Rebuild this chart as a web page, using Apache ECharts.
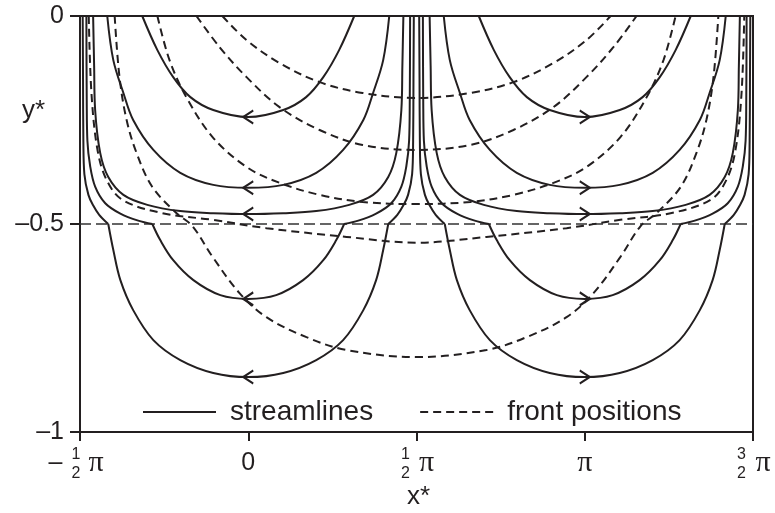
<!DOCTYPE html>
<html>
<head>
<meta charset="utf-8">
<script src="https://cdn.jsdelivr.net/npm/echarts@6/dist/echarts.min.js"></script>
<style>
  html, body { margin: 0; padding: 0; background: #fff; }
  #chart { width: 775px; height: 513px; }
</style>
</head>
<body>
<div id="chart"></div>
<script>
// Horizontal coordinate is x*/π, vertical is y*.
const cellCentres = [0, 1];          // centres of the two streamline cells
const cellArrowDir = ['left', 'right'];
const frontCentre = 0.5;             // front positions are symmetric about x* = π/2
const interfaceDepth = -0.5;

// Streamlines: left half of a cell, [offset from cell centre, y*], top boundary -> lowest point.
// Streamlines reaching the lower layer are split at the interface (upper part / lower part).
const streamline1 = { upper: [[-0.315, 0], [-0.270, -0.082], [-0.223, -0.147], [-0.172, -0.195], [-0.104, -0.226], [0, -0.243]] };
const streamline2 = { upper: [[-0.419, 0], [-0.401, -0.106], [-0.371, -0.185], [-0.342, -0.250], [-0.282, -0.322], [-0.202, -0.377], [-0.104, -0.406], [0, -0.413]] };
const streamline3 = { upper: [[-0.461, 0], [-0.458, -0.12], [-0.455, -0.226], [-0.440, -0.329], [-0.416, -0.387], [-0.371, -0.430], [-0.300, -0.454], [-0.202, -0.469], [-0.104, -0.474], [0, -0.476]] };
const streamline4 = {
  upper: [[-0.481, 0], [-0.480, -0.2], [-0.478, -0.3], [-0.470, -0.36], [-0.455, -0.41], [-0.425, -0.45], [-0.380, -0.475], [-0.327, -0.492], [-0.285, -0.5]],
  lower: [[-0.285, -0.5], [-0.262, -0.538], [-0.223, -0.587], [-0.163, -0.635], [-0.083, -0.671], [0, -0.680]]
};
const streamline5 = {
  upper: [[-0.492, 0], [-0.491, -0.15], [-0.490, -0.3], [-0.487, -0.38], [-0.475, -0.43], [-0.461, -0.455], [-0.443, -0.478], [-0.416, -0.5]],
  lower: [[-0.416, -0.5], [-0.401, -0.5625], [-0.380, -0.635], [-0.342, -0.707], [-0.282, -0.779], [-0.202, -0.827], [-0.104, -0.858], [0, -0.868]]
};
const streamlines = [streamline1, streamline2, streamline3, streamline4, streamline5];

// Front positions: left half, [offset from x* = π/2, y*], top boundary -> centre.
const frontA = [[-0.577, 0], [-0.505, -0.058], [-0.407, -0.113], [-0.288, -0.159], [-0.160, -0.185], [0, -0.197]];
const frontB = [[-0.654, 0], [-0.585, -0.075], [-0.505, -0.147], [-0.407, -0.219], [-0.288, -0.274], [-0.160, -0.310], [0, -0.322]];
const frontC = [[-0.770, 0], [-0.734, -0.106], [-0.684, -0.195], [-0.606, -0.291], [-0.505, -0.363], [-0.407, -0.401], [-0.288, -0.430], [-0.160, -0.447], [0, -0.452]];
const frontD = [[-0.974, 0], [-0.966, -0.185], [-0.948, -0.322], [-0.921, -0.394], [-0.874, -0.442], [-0.755, -0.474], [-0.606, -0.490], [-0.446, -0.510], [-0.208, -0.531], [0, -0.545]];
const frontE = [[-0.897, 0], [-0.883, -0.144], [-0.862, -0.248], [-0.832, -0.329], [-0.785, -0.411], [-0.713, -0.474], [-0.666, -0.505], [-0.606, -0.579], [-0.526, -0.666], [-0.446, -0.724], [-0.327, -0.772], [-0.208, -0.803], [0, -0.820]];
const fronts = [frontA, frontB, frontC, frontD, frontE];

// Axis ticks (x*/π) and their label parts
const xTicks = [-0.5, 0, 0.5, 1, 1.5];
const xTickMain = ['{m|–}{g1| }{p1|π}', '{t|0}', '{g2| }{p|π}', '{p|π}', '{g2| }{p|π}'];
const xTickFraction = ['{f1|1}\n{f1|2}', '', '{f2|1}\n{f2|2}', '', '{f3|3}\n{f3|2}'];
const yTicks = [-1, -0.5, 0];
const yTickLabels = ['–1', '–0.5', '0'];

const ink = '#231f20';

function place(half, centre) {
  return half.map(p => [centre + p[0], p[1]]);
}
function placeMirrored(half, centre) {
  return half.slice().reverse().map(p => [centre - p[0], p[1]]);
}
function fullCurve(half, centre) {
  return place(half, centre).concat(placeMirrored(half, centre).slice(1));
}

const series = [];
const solidStyle = { color: ink, width: 2 };
function addLine(name, data, lineStyle) {
  series.push({
    name: name, type: 'line', data: data, symbol: 'none', showSymbol: false,
    smooth: 0.35, lineStyle: lineStyle, itemStyle: { color: ink }, silent: true, z: 3
  });
}

cellCentres.forEach(c => {
  streamlines.forEach(s => {
    if (s.lower) {
      addLine('streamlines', place(s.upper, c), solidStyle);
      addLine('streamlines', placeMirrored(s.upper, c), solidStyle);
      addLine('streamlines', fullCurve(s.lower, c), solidStyle);
    } else {
      addLine('streamlines', fullCurve(s.upper, c), solidStyle);
    }
  });
});

const dashedStyle = { color: ink, width: 2, type: [8, 5] };
fronts.forEach(f => addLine('front positions', fullCurve(f, frontCentre), dashedStyle));

// interface between the layers
series.push({
  name: 'interface', type: 'line', symbol: 'none', silent: true, z: 2,
  data: [[-0.5, interfaceDepth], [1.5, interfaceDepth]],
  lineStyle: { color: '#333', width: 1.5, type: [11, 5] }
});

// flow direction arrows at the lowest point of every streamline
const arrowPaths = {
  left: 'path://M10,0 L0,5 L10,10',
  right: 'path://M0,0 L10,5 L0,10'
};
cellCentres.forEach((c, i) => {
  series.push({
    name: 'direction', type: 'scatter', silent: true, z: 4,
    symbol: arrowPaths[cellArrowDir[i]], symbolSize: [10, 13],
    itemStyle: { color: 'none', borderColor: ink, borderWidth: 2, opacity: 1 },
    data: streamlines.map(s => {
      const part = s.lower || s.upper;
      return [c, part[part.length - 1][1]];
    })
  });
});

function tickIndex(v) {
  return xTicks.findIndex(t => Math.abs(t - v) < 1e-9);
}

const piStyle = { fontFamily: 'Liberation Serif', fontSize: 30, color: ink, lineHeight: 26 };
const fracStyle = { fontFamily: 'Liberation Sans', fontSize: 16, color: ink, lineHeight: 19 };

const chart = echarts.init(document.getElementById('chart'), null, { renderer: 'canvas' });
chart.setOption({
  animation: false,
  backgroundColor: '#fff',
  grid: {
    left: 80, right: 22, top: 16, bottom: 81,
    show: true, borderColor: ink, borderWidth: 2,
    containLabel: false, outerBoundsMode: 'none'
  },
  legend: {
    data: ['streamlines', 'front positions'],
    left: 137, top: 393,
    itemWidth: 73, itemHeight: 14, itemGap: 46,
    selectedMode: false,
    itemStyle: { opacity: 0 },
    textStyle: { fontFamily: 'Liberation Sans', fontSize: 28, color: ink, padding: [0, 0, 0, 9] }
  },
  xAxis: [
    {
      type: 'value', position: 'bottom', min: -0.5, max: 1.5, interval: 0.5,
      axisLine: { show: true, onZero: false, lineStyle: { color: ink, width: 2 } },
      axisTick: { show: true, length: 9, lineStyle: { color: ink, width: 2 } },
      splitLine: { show: false },
      axisLabel: {
        margin: 18, color: ink,
        formatter: v => xTickMain[tickIndex(v)] || '',
        rich: {
          m: { fontFamily: 'Liberation Sans', fontSize: 25, color: ink, lineHeight: 26 },
          t: { fontFamily: 'Liberation Sans', fontSize: 25, color: ink, lineHeight: 26 },
          g1: { width: 26, fontSize: 10 },
          g2: { width: 20, fontSize: 10 },
          p: piStyle,
          p1: Object.assign({}, piStyle, { padding: [0, 8, 0, 0] })
        }
      }
    },
    {
      type: 'value', position: 'bottom', min: -0.5, max: 1.5, interval: 0.5,
      axisLine: { show: false, onZero: false }, axisTick: { show: false }, splitLine: { show: false },
      axisLabel: {
        margin: 13, color: ink,
        formatter: v => xTickFraction[tickIndex(v)] || '',
        rich: {
          f1: Object.assign({}, fracStyle, { padding: [0, 8, 0, 0] }),
          f2: Object.assign({}, fracStyle, { padding: [0, 22, 0, 0] }),
          f3: Object.assign({}, fracStyle, { padding: [0, 23, 0, 0] })
        }
      }
    }
  ],
  yAxis: {
    type: 'value', min: -1, max: 0, interval: 0.5,
    axisLine: { show: true, onZero: false, lineStyle: { color: ink, width: 2 } },
    axisTick: { show: true, length: 10, lineStyle: { color: ink, width: 2 } },
    splitLine: { show: false },
    axisLabel: {
      margin: 16, color: ink, fontFamily: 'Liberation Sans', fontSize: 25,
      formatter: v => {
        const i = yTicks.findIndex(t => Math.abs(t - v) < 1e-9);
        return i >= 0 ? yTickLabels[i] : '';
      }
    }
  },
  graphic: [
    { type: 'text', left: 22, top: 98, style: { text: 'y*', font: '26px "Liberation Sans"', fill: ink } },
    { type: 'text', left: 407, top: 484, style: { text: 'x*', font: '26px "Liberation Sans"', fill: ink } }
  ],
  series: series
});
</script>
</body>
</html>
